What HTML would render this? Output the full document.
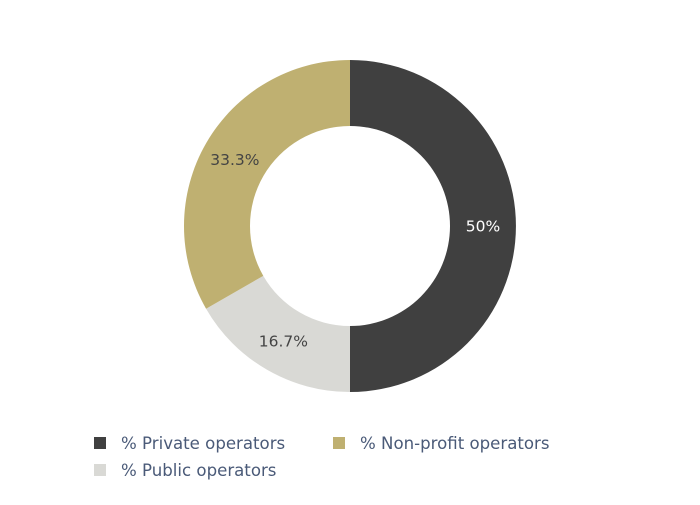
<!DOCTYPE html>
<html><head><meta charset="utf-8"><style>
body{margin:0;background:#fff;}
svg text{font-family:"DejaVu Sans","Liberation Sans",sans-serif;}
</style></head><body>
<svg id="chart" width="700" height="500">
<g id="slices"></g>
<g id="legend"></g>
</svg>
<script>
const categories=["% Private operators","% Public operators","% Non-profit operators"];
const values=[50,16.7,33.3];
const labels=["50%","16.7%","33.3%"];
const colors=["#404040","#d9d9d5","#bfb071"];
const textColors=["#ffffff","#444444","#444444"];
const NS="http://www.w3.org/2000/svg";
const cx=350,cy=226,R=166,r=100;
const total=values.reduce((a,b)=>a+b,0);
const g=document.getElementById('slices');
let a0=0;
function pt(a,rad){return [cx+rad*Math.sin(a),cy-rad*Math.cos(a)];}
values.forEach((v,i)=>{
  const a1=a0+v/total*2*Math.PI;
  const large=(a1-a0)>Math.PI?1:0;
  const [x0,y0]=pt(a0,R),[x1,y1]=pt(a1,R),[x2,y2]=pt(a1,r),[x3,y3]=pt(a0,r);
  const p=document.createElementNS(NS,'path');
  p.setAttribute('d',`M${x0},${y0}A${R},${R} 0 ${large} 1 ${x1},${y1}L${x2},${y2}A${r},${r} 0 ${large} 0 ${x3},${y3}Z`);
  p.setAttribute('fill',colors[i]);
  
  
  g.appendChild(p);
  const am=(a0+a1)/2;const [tx,ty]=pt(am,(R+r)/2);
  const t=document.createElementNS(NS,'text');
  t.setAttribute('x',tx);t.setAttribute('y',ty+5.5);
  t.setAttribute('text-anchor','middle');t.setAttribute('font-size','15.5');
  t.setAttribute('fill',textColors[i]);
  t.textContent=labels[i];
  
  
  g.appendChild(t);
  a0=a1;
});
const lg=document.getElementById('legend');
const order=[0,2,1];
const pos=[[94,437],[333,437],[94,464]];
order.forEach((ci,k)=>{
  const [x,y]=pos[k];
  const s=document.createElementNS(NS,'rect');
  s.setAttribute('x',x);s.setAttribute('y',y);s.setAttribute('width',12);s.setAttribute('height',12);
  s.setAttribute('fill',colors[ci]);
  
  
  lg.appendChild(s);
  const t=document.createElementNS(NS,'text');
  t.setAttribute('x',x+27);t.setAttribute('y',y+12);
  t.setAttribute('font-size','16.6');t.setAttribute('fill','#4a5a78');
  t.textContent=categories[ci];
  
  
  lg.appendChild(t);
});
</script>
</body></html>
